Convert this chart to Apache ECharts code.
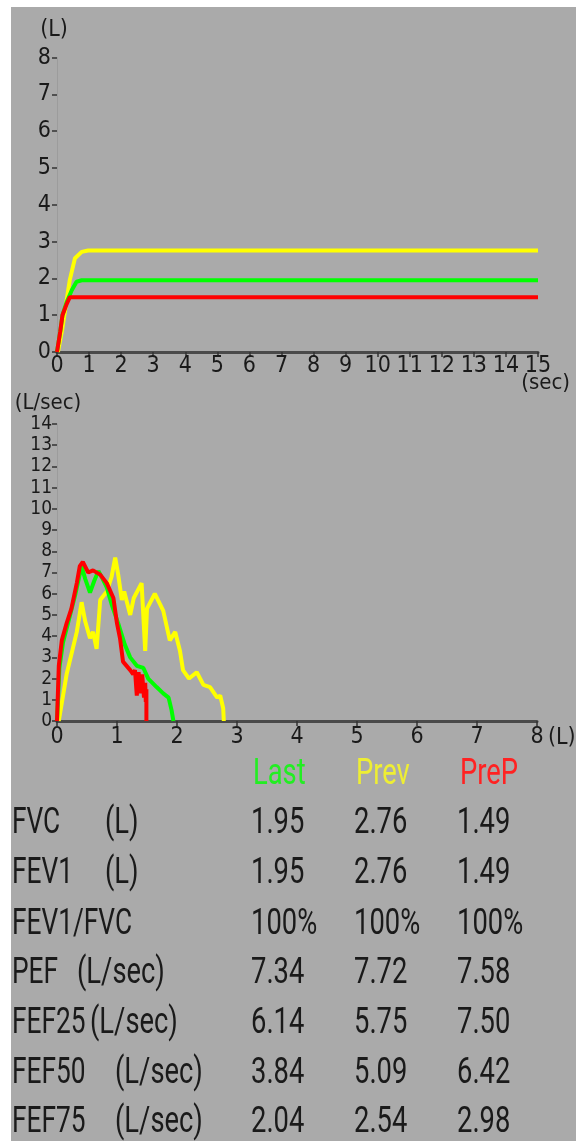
<!DOCTYPE html>
<html>
<head>
<meta charset="utf-8">
<script src="https://cdn.jsdelivr.net/npm/echarts@6/dist/echarts.min.js"></script>
<style>
	html, body {
		margin: 0;
		padding: 0;
		background: #fff;
	}
	#chart {
		position: absolute;
		left: 11px;
		top: 7px;
		width: 565px;
		height: 1134px;
		background: #aaaaaa;
	}
</style>
</head>
<body>
<div id="chart"></div>
<script>
// 体积-时间曲线 [sec, L]
const lastVT = [[0, 0], [0.1, 0.55], [0.17, 1.0], [0.3, 1.35], [0.46, 1.68], [0.61, 1.91], [0.77, 1.95], [15, 1.95]];
const prevVT = [[0.03, 0], [0.16, 0.6], [0.3, 1.41], [0.4, 1.96], [0.56, 2.55], [0.77, 2.72], [0.97, 2.76], [15, 2.76]];
const prepVT = [[0, 0], [0.1, 0.55], [0.17, 1.0], [0.3, 1.3], [0.4, 1.49], [15, 1.49]];

// 流量-容积曲线 [L, L/sec]
const lastFV = [[0, 0], [0.04, 2.5], [0.1, 3.7], [0.2, 4.8], [0.3, 5.9], [0.37, 6.8], [0.41, 7.3], [0.47, 6.7],
	[0.55, 6.05], [0.62, 6.6], [0.69, 7.07], [0.76, 6.7], [0.83, 6.3], [0.91, 5.5], [1.02, 4.6], [1.13, 3.6],
	[1.22, 3.0], [1.33, 2.6], [1.44, 2.5], [1.52, 2.0], [1.66, 1.6], [1.77, 1.3], [1.86, 1.1], [1.91, 0.5], [1.94, 0]];
const prevFV = [[0.03, 0], [0.16, 2.2], [0.33, 4.2], [0.41, 5.6], [0.47, 4.7], [0.55, 3.9], [0.6, 4.2], [0.66, 3.4],
	[0.72, 5.7], [0.83, 6.1], [0.91, 6.8], [0.97, 7.7], [1.02, 6.9], [1.08, 5.7], [1.12, 6.1], [1.22, 5.0],
	[1.28, 5.8], [1.41, 6.5], [1.47, 3.3], [1.5, 5.3], [1.63, 6.0], [1.77, 5.2], [1.88, 3.8], [1.97, 4.2],
	[2.05, 3.3], [2.1, 2.4], [2.2, 2.0], [2.33, 2.3], [2.44, 1.7], [2.55, 1.6], [2.67, 1.1], [2.72, 1.2],
	[2.77, 0.6], [2.78, 0]];
const prepFV = [[0, 0], [0.03, 2.6], [0.08, 3.8], [0.16, 4.6], [0.24, 5.3], [0.33, 6.5], [0.38, 7.3], [0.43, 7.5],
	[0.52, 7.0], [0.6, 7.1], [0.72, 6.9], [0.83, 6.5], [0.94, 5.8], [1.0, 4.6], [1.05, 3.9], [1.1, 2.8],
	[1.16, 2.6], [1.22, 2.4], [1.27, 2.2], [1.3, 2.4], [1.33, 1.2], [1.36, 2.3], [1.39, 1.3], [1.42, 2.2],
	[1.45, 1.1], [1.47, 1.8], [1.48, 0.9], [1.49, 1.5], [1.49, 0]];

// 表格
const headers = ['Last', 'Prev', 'PreP'];
const headerColors = ['#22ee22', '#eeee33', '#ff2222'];
const rowNames = ['FVC', 'FEV1', 'FEV1/FVC', 'PEF', 'FEF25', 'FEF50', 'FEF75'];
const rowUnits = ['(L)', '(L)', '', '(L/sec)', '(L/sec)', '(L/sec)', '(L/sec)'];
const lastVals = ['1.95', '1.95', '100%', '7.34', '6.14', '3.84', '2.04'];
const prevVals = ['2.76', '2.76', '100%', '7.72', '5.75', '5.09', '2.54'];
const prepVals = ['1.49', '1.49', '100%', '7.58', '7.50', '6.42', '2.98'];

const NARROW = "'Liberation Sans Narrow', 'DejaVu Sans Condensed', Roboto, sans-serif";
const TXT = '#1a1a1a';

let myChart = echarts.init(document.getElementById('chart'));

// 坐标轴公共样式
const axisBase = () => ({
	type: 'value',
	splitLine: {show: false},
	nameMoveOverlap: false,
	axisTick: {show: true, length: 5, lineStyle: {color: '#333', width: 1.5}},
});

const lineSeries = (data, color, xi) => ({
	type: 'line',
	xAxisIndex: xi,
	yAxisIndex: xi,
	data: data,
	showSymbol: false,
	symbol: 'none',
	lineStyle: {color: color, width: 4},
	itemStyle: {color: color},
	silent: true,
});

// 表格文字
const texts = [];
const cellText = (x, y, text, color, sx) => ({
	type: 'text',
	x: x,
	y: y,
	scaleX: sx || 0.76,
	silent: true,
	style: {text: text, fill: color, fontSize: 36, fontFamily: 'Roboto', verticalAlign: 'middle', align: 'left'},
});
const colX = [240, 343, 446];
const headX = [242, 345, 449];
const rowY = [817, 867, 918, 967, 1017, 1067, 1116];
const unitX = [94, 94, 0, 66, 79, 104, 104];
headers.forEach((h, i) => texts.push(cellText(headX[i], 768, h, headerColors[i])));
rowNames.forEach((n, i) => {
	texts.push(cellText(1, rowY[i], n, TXT, 0.73));
	if (rowUnits[i]) texts.push(cellText(unitX[i], rowY[i], rowUnits[i], TXT));
	texts.push(cellText(colX[0], rowY[i], lastVals[i], TXT));
	texts.push(cellText(colX[1], rowY[i], prevVals[i], TXT));
	texts.push(cellText(colX[2], rowY[i], prepVals[i], TXT));
});

myChart.setOption({
	animation: false,
	grid: [
		{left: 46, top: 50.6, width: 481, height: 294.4, outerBoundsMode: 'none', containLabel: false},
		{left: 46, top: 417, width: 480, height: 297, outerBoundsMode: 'none', containLabel: false},
	],
	xAxis: [
		Object.assign(axisBase(), {
			gridIndex: 0, min: 0, max: 15, interval: 1,
			axisLine: {show: true, lineStyle: {color: '#4a4a4a', width: 3}},
			axisLabel: {color: TXT, fontSize: 23, fontFamily: NARROW, margin: 3},
			name: '(sec)', nameLocation: 'end', nameGap: 32,
			nameTextStyle: {color: TXT, fontSize: 22, fontFamily: NARROW, align: 'right', verticalAlign: 'top', lineHeight: 62},
		}),
		Object.assign(axisBase(), {
			gridIndex: 1, min: 0, max: 8, interval: 1,
			axisLine: {show: true, lineStyle: {color: '#4a4a4a', width: 3}},
			axisLabel: {color: TXT, fontSize: 23, fontFamily: NARROW, margin: 5},
			name: '(L)', nameLocation: 'end', nameGap: 11,
			nameTextStyle: {color: TXT, fontSize: 23, fontFamily: NARROW, align: 'left', verticalAlign: 'top', lineHeight: 34},
		}),
	],
	yAxis: [
		Object.assign(axisBase(), {
			gridIndex: 0, min: 0, max: 8, interval: 1,
			axisLine: {show: true, lineStyle: {color: '#9c9c9c', width: 1}},
			axisLabel: {color: TXT, fontSize: 23, fontFamily: NARROW, margin: 6},
			name: '(L)', nameLocation: 'end', nameGap: 16,
			nameTextStyle: {color: TXT, fontSize: 23, fontFamily: NARROW, padding: [0, 6, 0, 0]},
		}),
		Object.assign(axisBase(), {
			gridIndex: 1, min: 0, max: 14, interval: 1,
			axisLine: {show: true, lineStyle: {color: '#9c9c9c', width: 1}},
			axisLabel: {color: TXT, fontSize: 19, fontFamily: NARROW, margin: 5},
			name: '(L/sec)', nameLocation: 'end', nameGap: 10,
			nameTextStyle: {color: TXT, fontSize: 22, fontFamily: NARROW, padding: [0, 18, 0, 0]},
		}),
	],
	series: [
		lineSeries(prevVT, '#ffff00', 0),
		lineSeries(lastVT, '#00ff00', 0),
		lineSeries(prepVT, '#ff0000', 0),
		lineSeries(prevFV, '#ffff00', 1),
		lineSeries(lastFV, '#00ff00', 1),
		lineSeries(prepFV, '#ff0000', 1),
	],
	graphic: texts,
});
</script>
</body>
</html>
